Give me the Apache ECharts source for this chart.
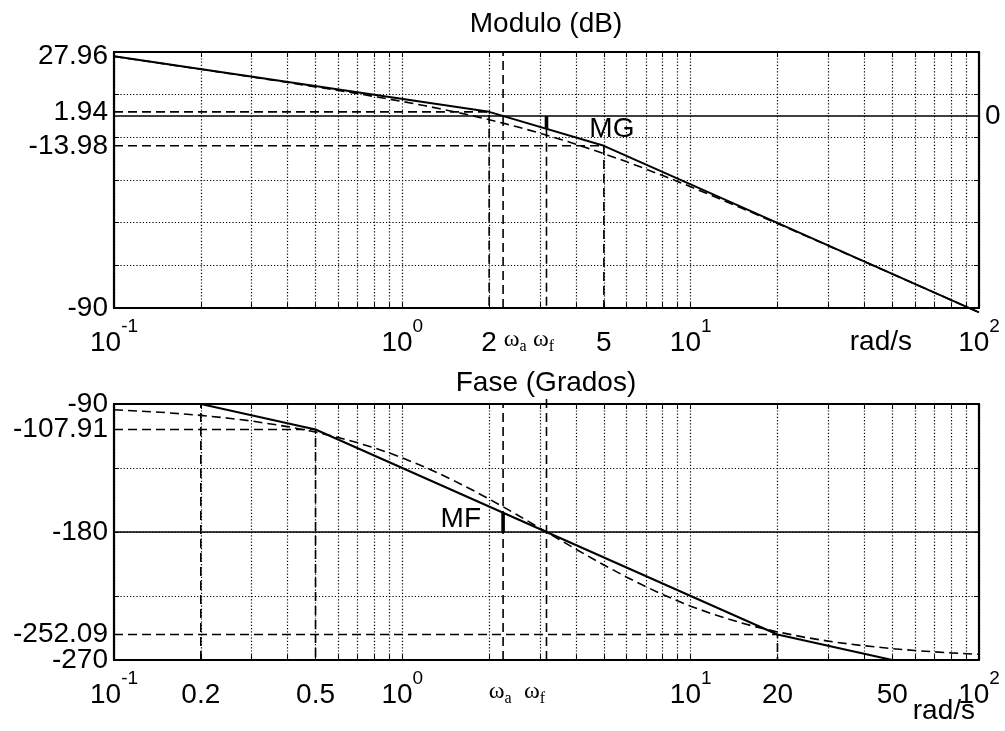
<!DOCTYPE html>
<html>
<head>
<meta charset="utf-8">
<script src="https://cdn.jsdelivr.net/npm/echarts@6/dist/echarts.min.js"></script>
<style>
  html, body { margin: 0; padding: 0; background: #fff; }
  #chart { width: 1005px; height: 731px; }
</style>
</head>
<body>
<div id="chart"></div>
<script>
// Bode diagram of G(s) = 25 / (s (s + 2) (s + 5)): asymptotes (solid) and exact response (dashed)

const W_A = 2.236;   // asymptotic gain crossover (rad/s)
const W_F = 3.162;   // phase crossover (rad/s)
const X_MIN = 0.1;
const X_MAX = 100;

// exact response
const freq = [0.1, 0.15, 0.2, 0.25, 0.3, 0.4, 0.5, 0.6, 0.7, 0.8,
              0.9, 1, 1.2, 1.35, 1.5, 1.75, 2, 2.236, 2.5, 3,
              3.5, 4, 5, 6, 7, 8, 9, 10, 12, 15,
              17, 20, 25, 30, 35, 40, 50, 60, 70, 80,
              100];
const magExact = [27.95, 24.41, 21.89, 19.92, 18.31, 15.72, 13.67, 11.96, 10.47, 9.14,
                  7.93, 6.82, 4.80, 3.42, 2.12, 0.13, -1.72, -3.35, -5.06, -8.04,
                  -10.74, -13.22, -17.63, -21.48, -24.88, -27.92, -30.67, -33.18, -37.61, -43.14,
                  -46.29, -50.41, -56.12, -60.81, -64.79, -68.24, -74.03, -78.77, -82.77, -86.25,
                  -92.05];
const phaseExact = [-94.01, -96.01, -98.00, -99.99, -101.97, -105.88, -109.75, -113.54, -117.26, -120.89,
                    -124.43, -127.87, -134.46, -139.13, -143.57, -150.48, -156.80, -162.29, -167.91, -177.27,
                    -185.25, -192.10, -203.20, -211.76, -218.52, -223.96, -228.42, -232.13, -237.92, -243.97,
                    -246.90, -250.25, -254.12, -256.72, -258.60, -260.01, -262.00, -263.33, -264.28, -264.99,
                    -265.99];

// straight-line asymptotes
const magAsymFreq = [0.1, 2, 5, 100];
const magAsym = [27.96, 1.94, -13.98, -92.04];
const phaseAsymFreq = [0.1, 0.2, 0.5, 20, 50, 100];
const phaseAsym = [-90, -90, -107.91, -252.09, -270, -270];

// construction lines (frequency, level) polylines
const magGuides = [
  [[W_A, -90], [W_A, 30]],
  [[0.1, 1.94], [2, 1.94], [2, -90]],
  [[0.1, -13.98], [5, -13.98], [5, -90]],
  [[W_F, -6.02], [W_F, -90]]
];
const phaseGuides = [
  [[W_A, -270], [W_A, -90]],
  [[W_F, -270], [W_F, -86]],
  [[0.2, -270], [0.2, -90]],
  [[0.1, -107.91], [0.5, -107.91], [0.5, -270]],
  [[0.1, -252.09], [20, -252.09], [20, -270]]
];
// gain margin and phase margin bars
const gainMarginBar = [[W_F, 0], [W_F, -6.02]];
const phaseMarginBar = [[W_A, -180], [W_A, -166.46]];
const zeroDbLine = [[X_MIN, 0], [X_MAX, 0]];
const minus180Line = [[X_MIN, -180], [X_MAX, -180]];
const gainMarginTag = [[5.33, -6.1]];
const phaseMarginTag = [[1.595, -171.3]];

// ticks and labels
const logTicks = [0.1, 0.2, 0.3, 0.4, 0.5, 0.6, 0.7, 0.8, 0.9, 1, 2, 3, 4, 5, 6, 7, 8, 9, 10, 20, 30, 40, 50, 60, 70, 80, 90, 100];
const magGrid = [-90, -70, -50, -30, -10, 10, 30];
const phaseGrid = [-270, -225, -180, -135, -90];
const magLabels = [-90, -13.98, 1.94, 27.96];
const phaseLabels = [-270, -180, -90];
const phaseLabelsInner = [-252.09, -107.91];
const magFreqLabelVals = [0.1, 1, 2, W_A, W_F, 5, 10, 100];
const magFreqLabelText = ['{b|10}{sup|-1}', '{b|10}{sup|0}', '{b|2}', '{wR|ω}{sub|a}', '{w|ω}{subL|f}', '{b|5}', '{b|10}{sup|1}', '{b|10}{sup|2}'];
const phaseFreqLabelVals = [0.1, 0.2, 0.5, 1, W_A, W_F, 10, 20, 50, 100];
const phaseFreqLabelText = ['{b|10}{sup|-1}', '{b|0.2}', '{b|0.5}', '{b|10}{sup|0}', '{w|ω}{subL|a}', '{w|ω}{subLL|f}', '{b|10}{sup|1}', '{b|20}', '{b|50}', '{b|10}{sup|2}'];

const BLACK = '#000';
const SANS = 'Liberation Sans';
const SERIF = 'Liberation Serif';
const FONT = 28;

const RICH = {
  b:     { fontFamily: SANS, fontSize: FONT, lineHeight: 30, color: BLACK },
  sup:   { fontFamily: SANS, fontSize: 19, lineHeight: 30, color: BLACK, padding: [0, 0, 32, 0] },
  w:     { fontFamily: SERIF, fontSize: 24, lineHeight: 30, color: BLACK, padding: [0, 0, 6, 0] },
  wR:    { fontFamily: SERIF, fontSize: 24, lineHeight: 30, color: BLACK, padding: [0, 0, 6, 24] },
  sub:   { fontFamily: SERIF, fontSize: 16, lineHeight: 30, color: BLACK, padding: [8, 0, 0, 0] },
  subL:  { fontFamily: SERIF, fontSize: 16, lineHeight: 30, color: BLACK, padding: [8, 6, 0, 0] },
  subLL: { fontFamily: SERIF, fontSize: 16, lineHeight: 30, color: BLACK, padding: [8, 24, 0, 0] }
};

function lookup(vals, texts) {
  return function (v) {
    const i = vals.findIndex(t => Math.abs(t - v) <= 1e-6 * Math.max(1, Math.abs(t)));
    return i < 0 ? '' : texts[i];
  };
}

function pairs(xs, ys) {
  return xs.map((x, i) => [x, ys[i]]);
}

const FRAME = { color: BLACK, width: 2.2 };
const GRID = { color: BLACK, width: 1.2, type: [1.2, 2] };

function freqAxis(gridIndex, position, labelVals, labelTexts) {
  const bottom = position === 'bottom';
  return {
    type: 'log', logBase: 10, gridIndex: gridIndex, position: position,
    min: X_MIN, max: X_MAX,
    axisLine: { show: true, onZero: false, lineStyle: FRAME },
    axisTick: { show: true, inside: true, length: 5, customValues: logTicks, lineStyle: { color: BLACK, width: 1 } },
    minorTick: { show: false },
    minorSplitLine: { show: false },
    splitLine: { show: bottom, lineStyle: GRID },
    axisLabel: bottom ? {
      show: true, customValues: labelVals, formatter: lookup(labelVals, labelTexts),
      margin: 20, hideOverlap: false, showMinLabel: true, showMaxLabel: true, rich: RICH
    } : { show: false }
  };
}

// value axis; 'frame' draws the box edge with inside ticks, otherwise only labels
function levelAxis(gridIndex, position, min, max, grid, labelVals, labelTexts, frame) {
  const left = position === 'left';
  return {
    type: 'value', gridIndex: gridIndex, position: position, min: min, max: max,
    axisLine: { show: frame, onZero: false, lineStyle: FRAME },
    axisTick: { show: frame, inside: true, length: 5, customValues: grid, lineStyle: { color: BLACK, width: 1 } },
    splitLine: { show: frame && left, lineStyle: GRID },
    axisLabel: labelVals ? {
      show: true, customValues: labelVals, formatter: lookup(labelVals, labelTexts),
      margin: 6, lineHeight: 16, padding: [4, 0, 0, 0], hideOverlap: false, showMinLabel: true, showMaxLabel: true,
      color: BLACK, fontFamily: SANS, fontSize: FONT
    } : { show: false }
  };
}

const SOLID = { color: BLACK, width: 2, type: 'solid' };
const DASHED = { color: BLACK, width: 1.6, type: [9, 5] };
const THICK = { color: BLACK, width: 3.6, type: 'solid' };
const LEVEL = { color: BLACK, width: 1.6, type: 'solid' };

function line(axis, data, style, extra) {
  return Object.assign({
    type: 'line', xAxisIndex: axis, yAxisIndex: axis, data: data,
    showSymbol: false, symbol: 'none', animation: false, silent: true,
    lineStyle: style, itemStyle: { color: BLACK }, z: 3
  }, extra || {});
}

function tag(axis, data, text) {
  return {
    type: 'scatter', xAxisIndex: axis, yAxisIndex: axis, data: data,
    symbolSize: 0, animation: false, silent: true, z: 4,
    itemStyle: { color: BLACK, opacity: 1 },
    label: {
      show: true, position: 'inside', formatter: text, color: BLACK, opacity: 1,
      fontFamily: SANS, fontSize: FONT, textBorderWidth: 0, textShadowBlur: 0
    }
  };
}

const series = [
  line(0, zeroDbLine, LEVEL),
  line(0, pairs(magAsymFreq, magAsym), SOLID, { clip: false }),
  line(0, pairs(freq, magExact), DASHED, { clip: false }),
  line(0, gainMarginBar, THICK),
  tag(0, gainMarginTag, 'MG'),
  line(2, minus180Line, LEVEL),
  line(2, pairs(phaseAsymFreq, phaseAsym), SOLID),
  line(2, pairs(freq, phaseExact), DASHED),
  line(2, phaseMarginBar, THICK),
  tag(2, phaseMarginTag, 'MF')
];
magGuides.forEach(g => series.push(line(0, g, DASHED)));
phaseGuides.forEach(g => series.push(line(2, g, DASHED, { clip: false })));

const titleStyle = { fontFamily: SANS, fontSize: FONT, fontWeight: 'normal', color: BLACK };

const option = {
  backgroundColor: '#fff',
  animation: false,
  title: [
    { text: 'Modulo (dB)', left: 546, top: 10, textAlign: 'center', textVerticalAlign: 'top', padding: 0, textStyle: titleStyle },
    { text: 'Fase (Grados)', left: 546, top: 369, textAlign: 'center', textVerticalAlign: 'top', padding: 0, textStyle: titleStyle },
    { text: 'rad/s', left: 912, top: 328, textAlign: 'right', textVerticalAlign: 'top', padding: 0, textStyle: titleStyle },
    { text: 'rad/s', left: 975, top: 697, textAlign: 'right', textVerticalAlign: 'top', padding: 0, textStyle: titleStyle }
  ],
  grid: [
    { left: 114, top: 52, width: 865, height: 256, containLabel: false, outerBoundsMode: 'none' },
    { left: 114, top: 404, width: 865, height: 256, containLabel: false, outerBoundsMode: 'none' }
  ],
  xAxis: [
    freqAxis(0, 'bottom', magFreqLabelVals, magFreqLabelText),
    freqAxis(0, 'top'),
    freqAxis(1, 'bottom', phaseFreqLabelVals, phaseFreqLabelText),
    freqAxis(1, 'top')
  ],
  yAxis: [
    levelAxis(0, 'left', -90, 30, magGrid, magLabels, magLabels.map(String), true),
    levelAxis(0, 'right', -90, 30, magGrid, [0], ['0'], true),
    levelAxis(1, 'left', -270, -90, phaseGrid, phaseLabels, phaseLabels.map(String), true),
    levelAxis(1, 'right', -270, -90, phaseGrid, null, null, true),
    levelAxis(1, 'left', -270, -90, phaseGrid, phaseLabelsInner, phaseLabelsInner.map(String), false)
  ],
  series: series
};

const chart = echarts.init(document.getElementById('chart'), null, { renderer: 'canvas' });
chart.setOption(option);
</script>
</body>
</html>
